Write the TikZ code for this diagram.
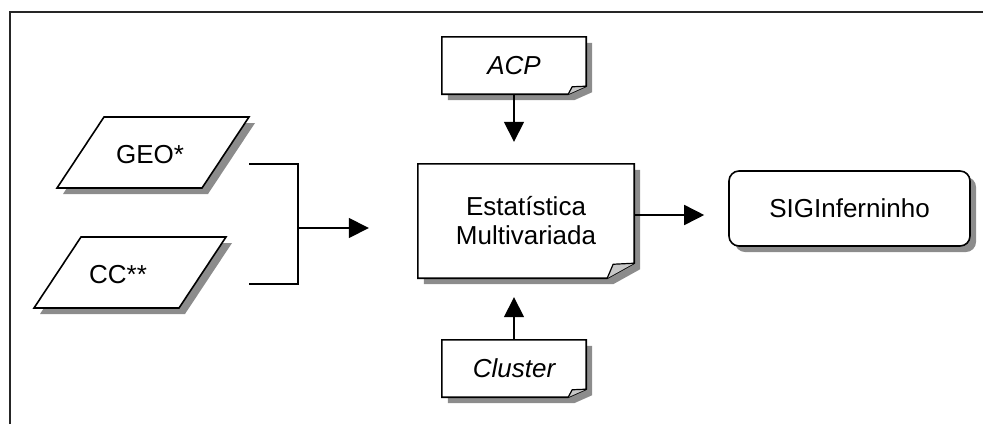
\documentclass[tikz,border=0pt]{standalone}
\usepackage{fontspec}
\setmainfont{Liberation Sans}
\usetikzlibrary{calc,backgrounds,arrows.meta,shadows}

\definecolor{shadowgray}{HTML}{8C8C8C}
\definecolor{flapgray}{HTML}{C8C8C8}

\tikzset{
  x=1pt, y=-1pt,
  frameline/.style={line width=2pt, draw=black!85},
  outline/.style={draw=black, line width=1.6pt, fill=white, line join=miter},
  flap/.style={draw=black, line width=1.2pt, fill=flapgray, line join=round},
  txt/.style={font=\fontsize{26}{29}\selectfont, inner sep=0pt, align=center},
  boxnode/.style={txt, draw=none},
  wire/.style={line width=1.6pt},
  conn/.style={wire, -{Triangle[length=20pt,width=20pt]}},
  roundbox/.style={txt, draw=black, line width=1.6pt, fill=white,
    rounded corners=10pt,
    drop shadow={shadow xshift=6pt, shadow yshift=-6pt, opacity=1, fill=shadowgray}},
}

% note sheet with a curled lower-right corner, drawn behind node #1
% #2 = horizontal size of the curl, #3 = vertical size of the curl
\newcommand\docshape[3]{%
  \begin{scope}[on background layer]
    \fill[shadowgray]
      ($(#1.north west)+(6,6)$) -- ($(#1.north east)+(6,6)$)
      -- ($(#1.south east)+(6,6-#3)$) -- ($(#1.south east)+(6-#2,6)$)
      -- ($(#1.south west)+(6,6)$) -- cycle;
    \draw[outline]
      (#1.north west) -- (#1.north east)
      -- ($(#1.south east)+(0,-#3)$) -- ($(#1.south east)+(-#2,0)$)
      -- (#1.south west) -- cycle;
    \draw[flap]
      ($(#1.south east)+(-#2,0)$)
      .. controls ($(#1.south east)+(-0.88*#2,-0.45*#3)$) .. ($(#1.south east)+(-0.78*#2,-0.93*#3)$)
      -- ($(#1.south east)+(0,-#3)$);
  \end{scope}
}

\begin{document}
\begin{tikzpicture}
\useasboundingbox (0,0) rectangle (983,424);

% open frame: top and left edges
\draw[frameline] (10,424) -- (10,12) -- (983,12);

% input parallelograms with shadows
\fill[shadowgray] (110,123) -- (255,123) -- (208,194) -- (63,194) -- cycle;
\draw[outline] (104,117) -- (249,117) -- (202,188) -- (57,188) -- cycle;
\fill[shadowgray] (87,243) -- (232,243) -- (185,314) -- (40,314) -- cycle;
\draw[outline] (81,237) -- (226,237) -- (179,308) -- (34,308) -- cycle;

\node[txt] (geo) at (150,155) {GEO*};
\node[txt] (cc) at (118,275) {CC**};

% central process and its method inputs
\node[boxnode, minimum width=216pt, minimum height=114pt] (est) at (526,221)
  {Estatística\\Multivariada};
\node[boxnode, minimum width=144pt, minimum height=57pt] (acp) at (514,65.5)
  {\itshape ACP};
\node[boxnode, minimum width=144pt, minimum height=57pt] (clu) at (514,368.5)
  {\itshape Cluster};
\docshape{est}{27}{15}
\docshape{acp}{18}{8}
\docshape{clu}{18}{8}

% output system
\node[roundbox, minimum width=241pt, minimum height=75pt] (sig) at (849.5,208.5)
  {SIGInferninho};

% connectors
\coordinate (geoout) at (249,164);
\coordinate (ccout) at (249,284);
\coordinate (merge) at (298,228);
\coordinate (estin) at ($(est.west)+(-49,7)$);
\draw[wire] (geoout) -- (geoout -| merge) -- (ccout -| merge) -- (ccout);
\draw[conn] (merge) -- (estin);

\coordinate (acptip) at ($(est.north)+(0,-22)$);
\draw[conn] (acp.south) -- (acp.south |- acptip);
\coordinate (clutip) at ($(est.south)+(0,19)$);
\draw[conn] (clu.north) -- (clu.north |- clutip);

\coordinate (estout) at ($(est.east)+(0,-6)$);
\coordinate (sigtip) at ($(sig.west)+(-24,0)$);
\draw[conn] (estout) -- (estout -| sigtip);
\end{tikzpicture}
\end{document}
